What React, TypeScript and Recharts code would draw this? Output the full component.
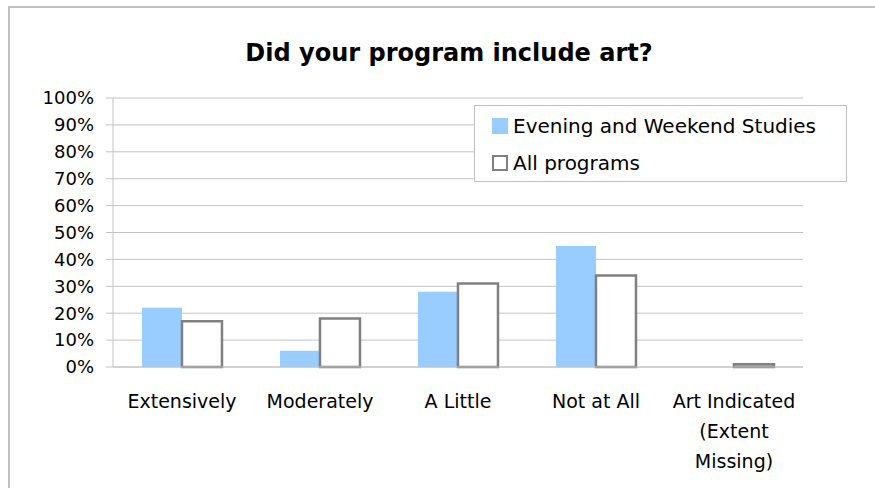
import React from "react";
import { BarChart, Bar, XAxis, YAxis, CartesianGrid } from "recharts";

const categories = ["Extensively", "Moderately", "A Little", "Not at All", "Art Indicated (Extent Missing)"];
const categoryLines: string[][] = [
  ["Extensively"],
  ["Moderately"],
  ["A Little"],
  ["Not at All"],
  ["Art Indicated", "(Extent", "Missing)"],
];
const eveningWeekend = [22, 6, 28, 45, 0];
const allPrograms = [17, 18, 31, 34, 1];
const yTicks = [0, 10, 20, 30, 40, 50, 60, 70, 80, 90, 100];

const seriesNames = ["Evening and Weekend Studies", "All programs"];

const data = categories.map((c, i) => ({
  category: c,
  ews: eveningWeekend[i],
  all: allPrograms[i],
}));

const FONT = "'DejaVu Sans', Verdana, sans-serif";

const XTick = (props: any) => {
  const { x, y, index } = props;
  const lines = categoryLines[index] || [String(props.payload?.value)];
  return (
    <text x={x} y={y} textAnchor="middle" fontFamily={FONT} fontSize={19} fill="#000">
      {lines.map((l, i) => (
        <tspan key={i} x={x} dy={i === 0 ? 41 : 30}>
          {l}
        </tspan>
      ))}
    </text>
  );
};

const LegendBox = () => (
  <div
    style={{
      position: "absolute",
      left: 474,
      top: 105,
      width: 373,
      height: 77,
      border: "1px solid #c0c0c0",
      background: "#fff",
      boxSizing: "border-box",
      fontFamily: FONT,
      fontSize: 20,
      color: "#000",
      zIndex: 3,
    }}
  >
    <div style={{ position: "absolute", left: 17, top: 12, width: 16, height: 16, background: "#99ccff" }} />
    <div style={{ position: "absolute", left: 38, top: 6, lineHeight: "28px", whiteSpace: "nowrap" }}>{seriesNames[0]}</div>
    <div
      style={{
        position: "absolute",
        left: 17,
        top: 49,
        width: 16,
        height: 16,
        background: "#fff",
        border: "2px solid #808080",
        boxSizing: "border-box",
      }}
    />
    <div style={{ position: "absolute", left: 38, top: 43, lineHeight: "28px", whiteSpace: "nowrap" }}>{seriesNames[1]}</div>
  </div>
);

export default function App() {
  return (
    <div style={{ position: "relative", width: 875, height: 488, overflow: "hidden", background: "#fff" }}>
      <style>{`html,body{margin:0;padding:0;overflow:hidden;}`}</style>
      <div
        style={{
          position: "absolute",
          left: 8,
          top: 6,
          width: 1000,
          height: 600,
          borderTop: "2px solid #c0c0c0",
          borderLeft: "2px solid #c0c0c0",
          boxSizing: "border-box",
        }}
      />
      <div
        style={{
          position: "absolute",
          left: 0,
          width: 898,
          top: 38,
          textAlign: "center",
          fontFamily: FONT,
          fontWeight: "bold",
          fontSize: 24,
          lineHeight: "30px",
          color: "#000",
          zIndex: 2,
        }}
      >
        Did your program include art?
      </div>
      <div style={{ position: "absolute", left: 0, top: 0 }}>
        <BarChart
          width={875}
          height={488}
          data={data}
          margin={{ top: 98, right: 72, bottom: 0, left: 0 }}
          barCategoryGap="21%"
          barGap={0}
        >
          <CartesianGrid vertical={false} stroke="#c4c4c4" strokeWidth={1} />
          <XAxis
            dataKey="category"
            height={121}
            interval={0}
            tickLine={false}
            tickSize={0}
            tickMargin={0}
            axisLine={{ stroke: "#c4c4c4" }}
            tick={<XTick />}
          />
          <YAxis
            width={113}
            domain={[0, 100]}
            ticks={yTicks}
            interval={0}
            tickFormatter={(v: number) => `${v}%`}
            tickSize={7}
            tickMargin={12}
            tickLine={{ stroke: "#c4c4c4" }}
            axisLine={{ stroke: "#c4c4c4" }}
            tick={{ fontFamily: FONT, fontSize: 18, fill: "#000" }}
          />
          <Bar dataKey="ews" name={seriesNames[0]} fill="#99ccff" isAnimationActive={false} />
          <Bar
            dataKey="all"
            name={seriesNames[1]}
            fill="#ffffff"
            stroke="#808080"
            strokeWidth={2.5}
            isAnimationActive={false}
          />
        </BarChart>
      </div>
      <LegendBox />
    </div>
  );
}
